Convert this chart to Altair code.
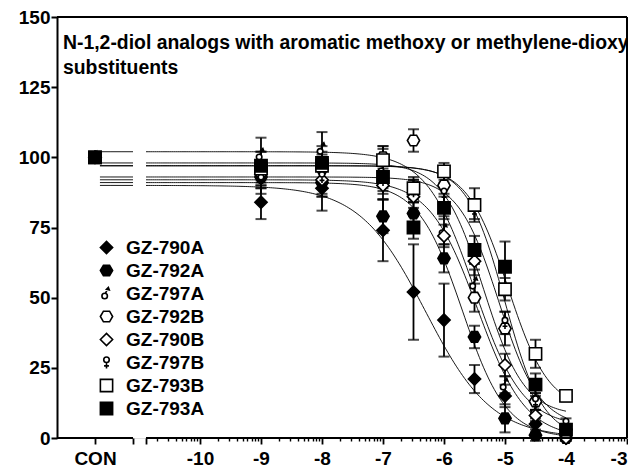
import altair as alt
import pandas as pd
import numpy as np

FONT = "Liberation Sans"
FS = 19

# ---------------- data ----------------
series = ["GZ-790A", "GZ-792A", "GZ-797A", "GZ-792B",
          "GZ-790B", "GZ-797B", "GZ-793B", "GZ-793A"]
log_conc = [-9, -8, -7, -6.5, -6, -5.5, -5, -4.5, -4]

resp_790A = [84, 89, 74, 52, 42, 21, 15, 5, 0]
resp_792A = [93, 91, 79, 80, 64, 36, 7, 1, 0]
resp_797A = [101, 103, 96, 88, 74, 55, 19, 10, 2]
resp_792B = [95, 96, 100, 106, 90, 50, 39, 13, 3]
resp_790B = [94, 92, 90, 86, 72, 63, 26, 8, 0]
resp_797B = [92, 93, 92, 88, 87, 81, 41, 13, 5]
resp_793B = [96, 97, 99, 89, 95, 83, 53, 30, 15]
resp_793A = [97, 98, 93, 75, 82, 67, 61, 19, 3]

sem_790A = [6, 8, 11, 17, 13, 5, 4, 3, 1]
sem_792A = [4, 5, 6, 4, 5, 4, 5, 2, 1]
sem_797A = [6, 6, 7, 4, 5, 5, 3, 3, 2]
sem_792B = [4, 5, 4, 4, 3, 5, 6, 3, 2]
sem_790B = [5, 6, 5, 4, 4, 5, 4, 2, 1]
sem_797B = [5, 6, 5, 4, 4, 3, 4, 3, 2]
sem_793B = [6, 5, 5, 4, 3, 6, 4, 5, 2]
sem_793A = [5, 6, 5, 4, 4, 5, 9, 4, 2]

con_resp = [100, 100, 100, 100, 100, 100, 100, 100]
con_sem = [1.5, 1.5, 1.5, 1.5, 1.5, 1.5, 1.5, 1.5]

# fitted 4PL parameters per series (top, bottom, logIC50, hill)
fit_top = [90, 91, 102, 98, 92, 93, 97, 97]
fit_bottom = [0, 0, 4, 8, 0, 4, 10, 0]
fit_logic50 = [-6.3, -5.7, -5.5, -5.35, -5.45, -5.1, -4.95, -5.0]
fit_hill = [0.8, 1.2, 1.1, 1.3, 1.1, 1.3, 1.3, 1.4]

filled_series = [True, True, False, False, False, False, False, True]

title_lines = ["N-1,2-diol analogs with aromatic methoxy or methylene-dioxy",
               "substituents"]

x_major_labels = ["CON", "-10", "-9", "-8", "-7", "-6", "-5", "-4", "-3"]
y_ticks = [0, 25, 50, 75, 100, 125, 150]

# ---------------- axis geometry (broken x axis) ----------------
X_MIN = -12.344
X_MAX = -3.0
CON_X = -11.721
SEG1_END = -11.098
SEG2_START = -10.885
CURVE_START = -11.64
CURVE_END = -4.0

# symbol paths
HEX = "M-1,0 L-0.5,-0.866 L0.5,-0.866 L1,0 L0.5,0.866 L-0.5,0.866 Z"
MALE = ("M-0.75,0.4 A0.45,0.45 0 1,0 0.15,0.4 A0.45,0.45 0 1,0 -0.75,0.4 Z "
        "M-0.15,-0.05 L0.25,-0.9 M0.0,-0.7 L0.3,-1.0 L0.45,-0.6 Z")
FEMALE = ("M-0.45,-0.45 A0.45,0.45 0 1,0 0.45,-0.45 A0.45,0.45 0 1,0 -0.45,-0.45 Z "
          "M0,0 L0,1 M-0.4,0.55 L0.4,0.55")
shapes = ["diamond", HEX, MALE, HEX, "diamond", FEMALE, "square", "square"]
fills = ["black" if f else "white" for f in filled_series]

resp_all = [resp_790A, resp_792A, resp_797A, resp_792B,
            resp_790B, resp_797B, resp_793B, resp_793A]
sem_all = [sem_790A, sem_792A, sem_797A, sem_792B,
           sem_790B, sem_797B, sem_793B, sem_793A]

rows = []
for i, s in enumerate(series):
    for xv, yv, ev in zip(log_conc, resp_all[i], sem_all[i]):
        rows.append(dict(series=s, x=xv, y=yv, lo=yv - ev, hi=yv + ev, z=i))
# control points; GZ-792A drawn last so it sits on top as in the reference
for i in range(len(series)):
    rows.append(dict(series=series[i], x=CON_X, y=con_resp[i],
                     lo=con_resp[i] - con_sem[i], hi=con_resp[i] + con_sem[i],
                     z=100 if series[i] == "GZ-792A" else i))
pts = pd.DataFrame(rows)

crows = []
for i, s in enumerate(series):
    for seg, (a, b, n) in enumerate([(CURVE_START, SEG1_END, 4),
                                      (SEG2_START, CURVE_END, 200)]):
        for xv in np.linspace(a, b, n):
            yv = fit_bottom[i] + (fit_top[i] - fit_bottom[i]) / (
                1 + 10 ** ((xv - fit_logic50[i]) * fit_hill[i]))
            crows.append(dict(series=s, seg=seg, x=xv, y=yv))
curves = pd.DataFrame(crows)

# x axis ticks: majors (+segment end caps) and minor log ticks
majors = [CON_X] + [float(v) for v in range(-10, -2)]
caps = [SEG1_END, SEG2_START]
minors = []
for d in range(-11, -3):
    for k in range(2, 10):
        v = d + np.log10(k)
        if v > SEG2_START:
            minors.append(round(float(v), 4))

xscale = alt.Scale(domain=[X_MIN, X_MAX], nice=False, zero=False)
yscale = alt.Scale(domain=[0, 150], nice=False, zero=False)

label_expr = ("datum.value < -11.5 ? 'CON' : "
              "(abs(datum.value - round(datum.value)) < 0.001 ? '' + datum.value : '')")

major_axis = alt.Axis(values=majors + caps, labelExpr=label_expr, domain=False, grid=False,
                      title=None, labelOverlap=False, labelBound=False, orient="bottom",
                      tickSize=6, tickWidth=1.8, tickColor="black",
                      labelFont=FONT, labelFontSize=FS, labelFontWeight="bold",
                      labelColor="black", labelPadding=5)
minor_axis = alt.Axis(values=minors, labels=False, domain=False, grid=False,
                      title=None, orient="bottom", tickSize=3, tickWidth=1.4,
                      tickColor="black")
yaxis = alt.Axis(values=y_ticks, grid=False, title=None, domainWidth=2,
                 domainColor="black", tickColor="black", tickWidth=2, tickSize=6,
                 labelFont=FONT, labelFontSize=FS, labelFontWeight="bold",
                 labelColor="black", labelPadding=1)


def xe(field="x", axis=None):
    return alt.X(f"{field}:Q", scale=xscale, axis=axis)


def ye(field="y"):
    return alt.Y(f"{field}:Q", scale=yscale, axis=yaxis)


base_pts = alt.Chart(pts)

err = base_pts.mark_rule(color="black", strokeWidth=1.8).encode(
    x=xe(), y=ye("lo"), y2="hi:Q")
cap_lo = base_pts.mark_tick(orient="horizontal", color="black", size=11,
                            thickness=2).encode(x=xe(), y=ye("lo"))
cap_hi = base_pts.mark_tick(orient="horizontal", color="black", size=11,
                            thickness=2).encode(x=xe(), y=ye("hi"))

lines = alt.Chart(curves).mark_line(color="black", strokeWidth=0.9).encode(
    x=xe(), y=ye(), detail=["series:N", "seg:N"])

legend = alt.Legend(title=None, orient="none", legendX=40, legendY=221,
                    labelFont=FONT, labelFontSize=FS, labelFontWeight="bold",
                    labelColor="black", symbolSize=150, symbolStrokeWidth=1.6,
                    symbolStrokeColor="black", rowPadding=3, labelOffset=10,
                    padding=0, symbolOpacity=1)

points = base_pts.mark_point(filled=True, strokeWidth=1.6,
                             size=150, opacity=1).encode(
    x=xe(axis=major_axis), y=ye(),
    shape=alt.Shape("series:N", scale=alt.Scale(domain=series, range=shapes),
                    legend=legend, sort=series),
    fill=alt.Fill("series:N", scale=alt.Scale(domain=series, range=fills),
                  legend=legend, sort=series),
    stroke=alt.Stroke("series:N", scale=alt.Scale(domain=series, range=["black"] * 8),
                      legend=legend, sort=series),
    order=alt.Order("z:Q"),
)

# broken x-axis line (carries the minor ticks) and the frame (top and right)
xseg_start = [X_MIN, SEG2_START]
xseg_end = [SEG1_END, X_MAX]
axis_line = alt.Chart(pd.DataFrame({"x": xseg_start, "x2": xseg_end, "y": [0, 0]})).mark_rule(
    color="black", strokeWidth=2).encode(
    x=xe(axis=minor_axis), x2="x2:Q", y=ye())
top_line = alt.Chart(pd.DataFrame({"x": [X_MIN], "x2": [X_MAX], "y": [150]})).mark_rule(
    color="black", strokeWidth=2).encode(x=xe(), x2="x2:Q", y=ye())
right_line = alt.Chart(pd.DataFrame({"x": [X_MAX], "y": [0], "y2": [150]})).mark_rule(
    color="black", strokeWidth=2).encode(x=xe(), y=ye(), y2="y2:Q")

title_df = pd.DataFrame({"x": [-12.246, -12.246], "y": [138.5, 129.7], "t": title_lines})
title = alt.Chart(title_df).mark_text(align="left", baseline="alphabetic", font=FONT,
                                      fontSize=19.4, fontWeight="bold", color="black").encode(
    x=xe(), y=ye(), text="t:N")

chart = alt.layer(lines, err, cap_lo, cap_hi, points, axis_line, top_line,
                  right_line, title).resolve_scale(x="independent").properties(
    width=570, height=421,
    autosize=alt.AutoSizeParams(type="none"),
    padding={"left": 49, "top": 9, "right": 1, "bottom": 31},
).configure_view(stroke=None).configure(background="white")

chart.save("out.html", embed_options={"renderer": "svg", "actions": False})
